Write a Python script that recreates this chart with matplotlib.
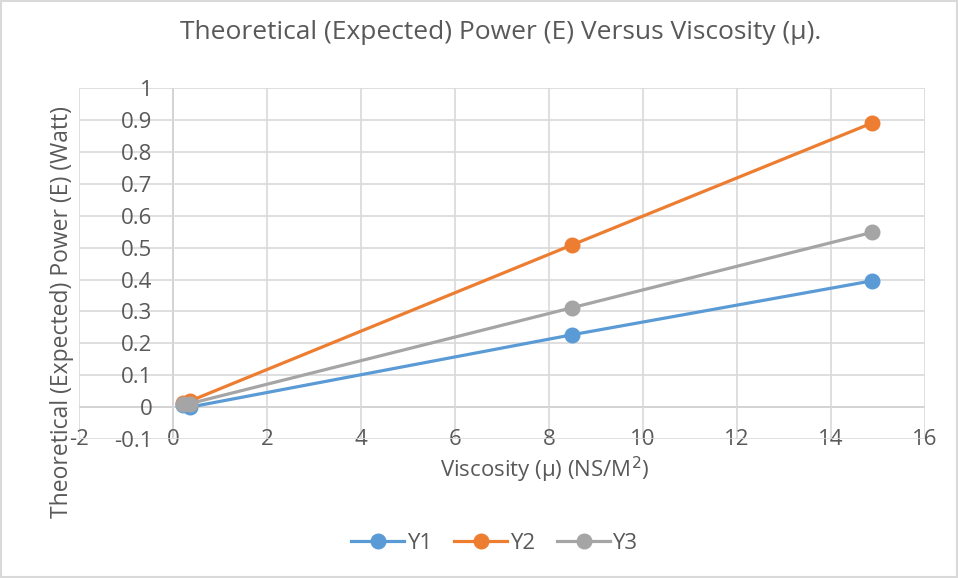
import matplotlib.pyplot as plt
from matplotlib.patches import Rectangle

plt.rcParams['font.family'] = ['Open Sans', 'DejaVu Sans']
plt.rcParams['axes.unicode_minus'] = False

# data
viscosity = [0.21, 0.36, 8.5, 14.88]
y1 = [0.008, 0.0, 0.227, 0.396]
y2 = [0.012, 0.019, 0.509, 0.891]
y3 = [0.009, 0.011, 0.312, 0.548]

series = [("Y1", y1, "#5b9bd5"), ("Y2", y2, "#ed7d31"), ("Y3", y3, "#a5a5a5")]
txt = "#595959"
fs = 16

fig = plt.figure(figsize=(9.58, 5.78), dpi=100)
ax = fig.add_axes([0.0825, 0.2405, 0.883, 0.607])

for name, vals, col in series:
    ax.plot(viscosity, vals, "-o", color=col, lw=2.3, ms=10.5, label=name, zorder=3)

ax.set_xlim(-2, 16)
ax.set_ylim(-0.1, 1)
ax.set_xticks(range(-2, 17, 2))
ax.set_yticks([i / 10 for i in range(-1, 11)])
ax.set_yticklabels(["-0.1", "0", "0.1", "0.2", "0.3", "0.4", "0.5", "0.6", "0.7", "0.8", "0.9", "1"])
ax.grid(color="#d9d9d9", lw=1.2, zorder=0)
ax.axhline(0, color="#bfbfbf", lw=1.4, zorder=1)
ax.axvline(0, color="#bfbfbf", lw=1.4, zorder=1)
for s in ax.spines.values():
    s.set_visible(False)
ax.spines['left'].set_position(('data', 0))
ax.tick_params(axis='y', length=0, pad=15, labelsize=fs, labelcolor=txt)
ax.tick_params(axis='x', length=0, pad=-7, labelsize=fs, labelcolor=txt)

fig.text(0.523, 0.943, "Theoretical (Expected) Power (E) Versus Viscosity (\u03bc).",
         ha="center", va="center", fontsize=19, color=txt)
fig.text(0.569, 0.187, "Viscosity (\u03bc) (NS/M$^2$)", ha="center", va="center",
         fontsize=fs, color=txt)
fig.text(0.065, 0.46, "Theoretical (Expected) Power (E) (Watt)", ha="center", va="center",
         rotation=90, fontsize=16.5, color=txt)

fig.legend(loc="center", bbox_to_anchor=(0.516, 0.06), ncol=3, frameon=False,
           fontsize=fs, labelcolor=txt, handlelength=2.4, columnspacing=1.0, handletextpad=0.1)

fig.add_artist(Rectangle((0.001, 0.001), 0.998, 0.998, transform=fig.transFigure,
                         fill=False, edgecolor="#d9d9d9", lw=1.5))

fig.savefig("out.png", dpi=100)
